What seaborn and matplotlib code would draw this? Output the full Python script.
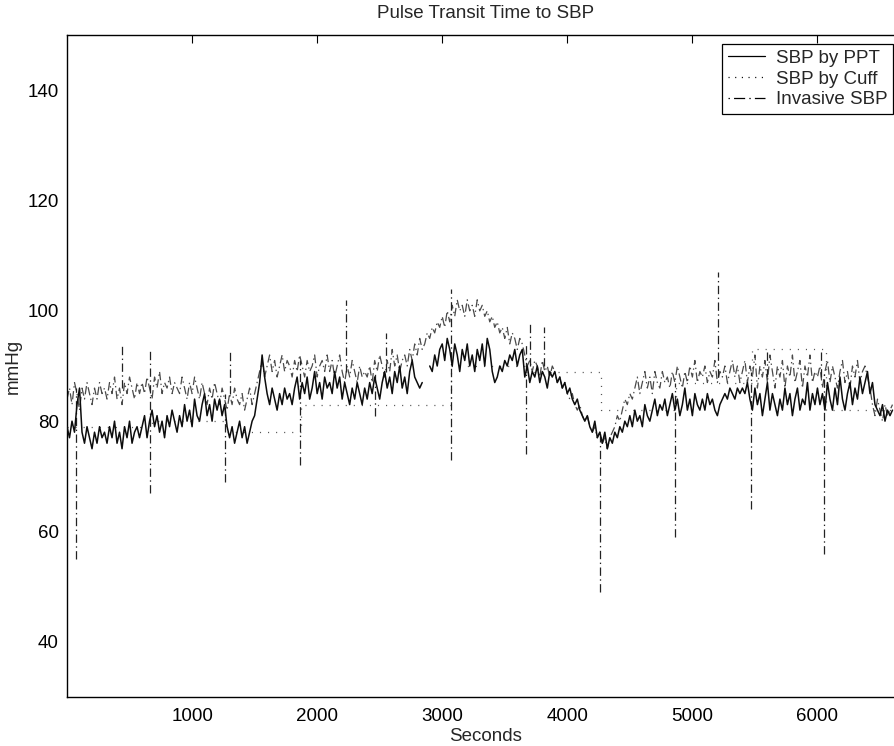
import numpy as np
import pandas as pd
import matplotlib
matplotlib.use("Agg")
import matplotlib.pyplot as plt
import seaborn as sns
from matplotlib.lines import Line2D

# Sampling interval of the continuous traces (seconds)
step_sec = 20

# Systolic pressure estimated from pulse transit time (mmHg); 15 samples = 300 s per row
ppt_sbp = [
    79, 77, 80, 78, 83, 86, 78, 76, 79, 77, 75, 78, 76, 79, 77,
    78, 76, 79, 77, 80, 76, 78, 75, 79, 77, 80, 76, 78, 79, 77,
    79, 81, 77, 80, 82, 79, 81, 78, 80, 77, 81, 79, 82, 80, 78,
    81, 79, 83, 80, 82, 79, 84, 81, 80, 83, 85, 81, 83, 80, 84,
    82, 84, 81, 83, 79, 77, 79, 76, 78, 80, 77, 79, 76, 78, 80,
    81, 84, 87, 92, 88, 85, 83, 86, 84, 82, 85, 83, 86, 84, 85,
    83, 86, 88, 84, 87, 85, 88, 84, 86, 89, 85, 87, 84, 88, 86,
    87, 85, 89, 86, 88, 84, 87, 85, 83, 86, 84, 87, 85, 83, 86,
    84, 87, 85, 88, 86, 84, 87, 89, 86, 88, 85, 89, 87, 90, 86,
    88, 85, 89, 91, 88, 87, 86, 87, np.nan, np.nan, 90, 89, 92, 90, 93,
    94, 91, 95, 93, 90, 94, 92, 89, 93, 91, 94, 90, 92, 89, 93,
    91, 94, 90, 95, 93, 89, 87, 88, 90, 89, 91, 90, 92, 91, 93,
    90, 92, 93, 88, 90, 87, 89, 88, 90, 87, 89, 88, 86, 89, 88,
    89, 87, 88, 86, 87, 85, 86, 84, 83, 84, 82, 81, 80, 81, 79,
    78, 80, 77, 78, 76, 78, 75, 77, 76, 78, 77, 79, 78, 80, 79,
    81, 79, 82, 80, 81, 79, 83, 81, 80, 82, 84, 81, 83, 82, 84,
    81, 83, 85, 82, 84, 81, 83, 86, 82, 84, 81, 85, 83, 82, 84,
    82, 85, 83, 84, 82, 81, 83, 84, 85, 84, 86, 85, 84, 86, 85,
    86, 85, 87, 84, 82, 86, 83, 85, 81, 84, 87, 82, 85, 83, 81,
    84, 82, 86, 83, 85, 81, 84, 86, 82, 84, 83, 87, 82, 85, 83,
    86, 83, 85, 82, 87, 84, 82, 86, 83, 88, 84, 82, 85, 87, 83,
    86, 84, 88, 85, 87, 89, 85, 87, 83, 82, 81, 83, 80, 82, 81,
    82,
]

# Invasive (arterial line) systolic pressure (mmHg), same sampling
invasive_sbp = [
    84, 86, 83, 87, 85, 82, 86, 84, 87, 85, 83, 86, 84, 87, 85,
    86, 84, 87, 85, 88, 84, 86, 83, 87, 85, 88, 86, 84, 87, 85,
    87, 85, 88, 86, 84, 88, 86, 89, 85, 87, 86, 88, 85, 87, 86,
    85, 88, 86, 84, 87, 85, 88, 86, 84, 87, 85, 83, 86, 84, 87,
    85, 83, 86, 84, 82, 85, 83, 86, 84, 83, 85, 82, 84, 86, 83,
    85, 87, 89, 91, 88, 90, 92, 89, 91, 88, 90, 92, 89, 91, 90,
    88, 91, 89, 92, 90, 88, 91, 89, 90, 92, 88, 90, 91, 89, 92,
    89, 91, 88, 90, 92, 89, 87, 90, 88, 91, 89, 87, 90, 88, 89,
    88, 90, 87, 91, 89, 92, 90, 88, 91, 89, 93, 90, 92, 89, 91,
    92, 90, 93, 91, 94, 92, 95, 93, 94, 96, 95, 97, 96, 98, 97,
    99, 97, 100, 98, 101, 99, 102, 100, 101, 99, 102, 100, 101, 99, 102,
    100, 101, 99, 100, 98, 99, 97, 98, 96, 97, 95, 97, 94, 96, 95,
    93, 95, 94, 92, 90, 91, 89, 91, 90, 88, 91, 89, 90, 88, 90,
    89, 87, 88, 86, 87, 85, 84, 85, 83, 82, 83, 81, 80, 81, 79,
    78, 79, 77, 78, 76, 77, 75, 77, 78, 79, 81, 80, 82, 84, 83,
    85, 84, 86, 88, 85, 87, 89, 86, 88, 85, 89, 87, 86, 89, 87,
    88, 86, 89, 87, 90, 88, 86, 89, 87, 90, 88, 91, 87, 89, 88,
    90, 87, 89, 88, 91, 87, 89, 88, 90, 87, 89, 91, 88, 90, 87,
    89, 91, 87, 90, 88, 92, 86, 90, 88, 91, 87, 92, 89, 86, 90,
    88, 91, 86, 90, 88, 92, 87, 89, 91, 86, 90, 88, 92, 87, 89,
    88, 90, 86, 89, 91, 87, 90, 88, 86, 89, 91, 87, 89, 86, 90,
    88, 91, 87, 89, 90, 88, 86, 83, 81, 84, 82, 80, 83, 81, 82,
    83,
]

# Transient artefacts in the arterial trace: time, lowest and highest reading
spike_sec = [70, 440, 665, 1265, 1300, 1860, 2230, 2465, 2550, 3068,
             3670, 3705, 3815, 4265, 4865, 5205, 5465, 5600, 6025, 6055]
spike_low = [55, 86, 67, 69, 85, 72, 89, 81, 89, 73,
             74, 90, 90, 49, 59, 88, 64, 88, 88, 56]
spike_high = [86, 94, 93, 85, 93, 91, 102, 89, 96, 104,
              94, 98, 97, 78, 87, 107, 89, 92.5, 93, 89]

# Cuff readings: start time of each reading and its value (held until the next)
cuff_sec = [0, 680, 1270, 1870, 3070, 3660, 4270, 4870, 5480, 6070, 6600]
cuff_sbp = [79, 80, 78, 83, 90, 89, 82, 87, 93, 82, 82]

x_ticks = [1000, 2000, 3000, 4000, 5000, 6000]
y_ticks = [40, 60, 80, 100, 120, 140]

sns.set_style("white")
plt.rcParams["font.family"] = ["Liberation Sans", "DejaVu Sans"]
plt.rcParams["lines.scale_dashes"] = False

seconds = np.arange(len(ppt_sbp)) * step_sec
ppt = pd.DataFrame({"sec": seconds, "sbp": ppt_sbp})
ppt["segment"] = ppt["sbp"].isna().cumsum()
ppt = ppt.dropna()
inv = pd.DataFrame({"sec": seconds, "sbp": invasive_sbp})
cuff = pd.DataFrame({"sec": cuff_sec, "sbp": cuff_sbp})

dashdot = (0, (6, 2.5, 1, 2.5))
dotted = (0, (0.8, 5))

fig = plt.figure(figsize=(8.94, 7.46), dpi=100)
ax = fig.add_axes([67 / 894, 49 / 746, 838 / 894, 662 / 746])

sns.lineplot(data=cuff, x="sec", y="sbp", drawstyle="steps-post", color="#555555",
             lw=0.9, linestyle=dotted, ax=ax, legend=False, zorder=1)
sns.lineplot(data=inv, x="sec", y="sbp", color="#4a4a4a", lw=0.9,
             linestyle=dashdot, ax=ax, legend=False, zorder=2)
ax.vlines(spike_sec, spike_low, spike_high, colors="#222222", lw=0.9,
          linestyles=[dashdot], zorder=2)
sns.lineplot(data=ppt, x="sec", y="sbp", units="segment", estimator=None,
             color="#0d0d0d", lw=1.1, ax=ax, legend=False, zorder=3)

ax.set_xlim(0, 6700)
ax.set_ylim(30, 150)
ax.set_xticks(x_ticks)
ax.set_yticks(y_ticks)
ax.tick_params(axis="both", direction="in", length=6, width=0.8, labelsize=13.5,
               colors="black", top=True, right=True, pad=6)
ax.tick_params(axis="x", pad=8)
for s in ax.spines.values():
    s.set_color("black")
    s.set_linewidth(1.0)

ax.set_title("Pulse Transit Time to SBP", fontsize=13.5, pad=12)
ax.set_xlabel("Seconds", fontsize=13.5, labelpad=2)
ax.set_ylabel("mmHg", fontsize=13.5, labelpad=4)

handles = [
    Line2D([], [], color="black", lw=0.9),
    Line2D([], [], color="black", lw=0.9, linestyle=(0, (0.8, 4))),
    Line2D([], [], color="black", lw=0.9, linestyle=(0, (1, 3, 8, 3))),
]
labels = ["SBP by PPT", "SBP by Cuff", "Invasive SBP"]
leg = ax.legend(handles, labels, loc="upper right",
                bbox_to_anchor=(893 / 894, 1 - 44 / 746),
                bbox_transform=fig.transFigure, borderaxespad=0,
                frameon=True, fancybox=False, framealpha=1, edgecolor="black",
                fontsize=13.5, handlelength=2.0, handletextpad=0.55,
                labelspacing=0.2, borderpad=0.3)
leg.get_frame().set_linewidth(0.9)

fig.savefig("out.png", dpi=100)
